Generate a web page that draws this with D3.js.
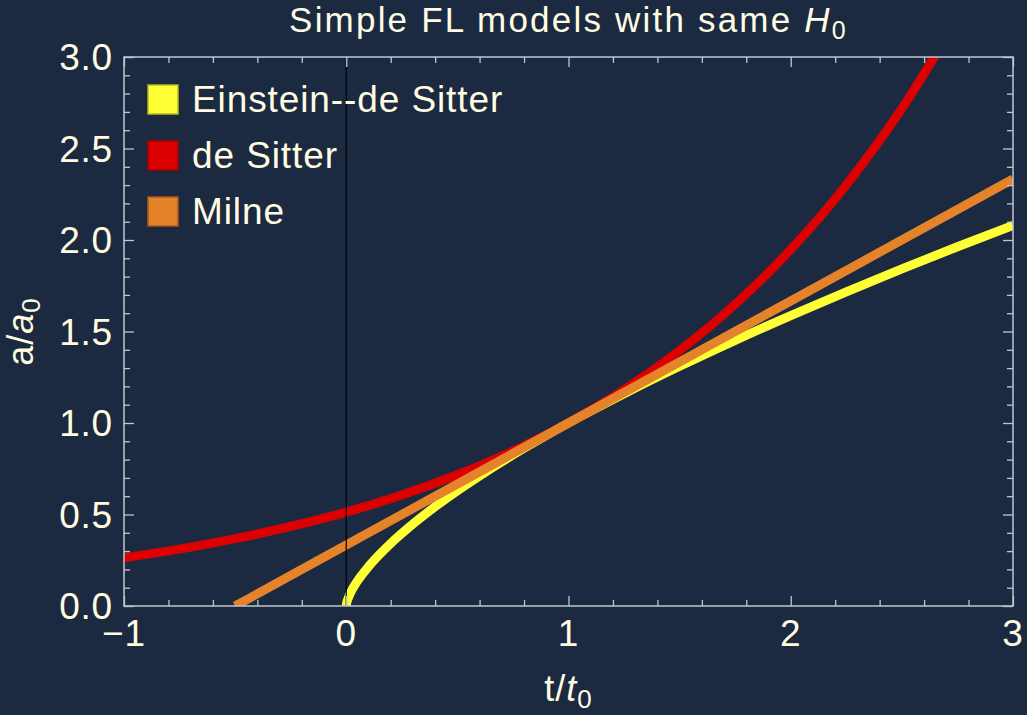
<!DOCTYPE html>
<html>
<head>
<meta charset="utf-8">
<script src="https://cdn.jsdelivr.net/npm/d3@7"></script>
<style>
  body { margin: 0; background: #1b2a40; }
  text { font-family: "Liberation Sans", Arial, sans-serif; fill: #fffce2; }
</style>
</head>
<body>
<div id="chart"></div>
<script>
// values
let edsT = [0, 0.002, 0.01, 0.025, 0.05, 0.1, 0.15, 0.2, 0.3, 0.4, 0.5, 0.6, 0.8, 1.0,
            1.25, 1.5, 1.75, 2.0, 2.25, 2.5, 2.75, 3.0];
let edsA = [0, 0.016, 0.046, 0.086, 0.136, 0.215, 0.282, 0.342, 0.448, 0.543, 0.630, 0.711, 0.862, 1.0,
            1.160, 1.310, 1.452, 1.587, 1.717, 1.842, 1.963, 2.080];

let dsT = [-1, -0.75, -0.5, -0.25, 0, 0.25, 0.5, 0.75, 1.0, 1.25, 1.5, 1.75, 2.0, 2.25, 2.5, 2.75];
let dsA = [0.264, 0.311, 0.368, 0.435, 0.513, 0.607, 0.717, 0.847, 1.0, 1.181, 1.396, 1.649, 1.948, 2.301, 2.718, 3.211];

let milneT = [-0.5, 0, 1.0, 2.0, 3.0];
let milneA = [0, 0.333, 1.0, 1.667, 2.333];

let legendNames = ["Einstein--de Sitter", "de Sitter", "Milne"];
let xTicks = [-1, 0, 1, 2, 3];
let yTicks = [0, 0.5, 1.0, 1.5, 2.0, 2.5, 3.0];

let w = 1027;
let h = 715;
let pLeft = 124, pRight = 1013, pTop = 57, pBottom = 606;

let svg = d3.select("#chart")
            .append("svg")
            .attr("width", w)
            .attr("height", h);

svg.append("rect")
    .attr("width", w)
    .attr("height", h)
    .attr("fill", "#1b2a40");

let x = d3.scaleLinear().domain([-1, 3]).range([pLeft, pRight]);
let y = d3.scaleLinear().domain([0, 3]).range([pBottom, pTop]);

svg.append("clipPath")
    .attr("id", "plotclip")
    .append("rect")
    .attr("x", pLeft)
    .attr("y", pTop)
    .attr("width", pRight - pLeft)
    .attr("height", pBottom - pTop);

// curves, yellow first, orange on top
let series = [
    {t: edsT, a: edsA, color: "#ffff36"},
    {t: dsT, a: dsA, color: "#dd0000"},
    {t: milneT, a: milneA, color: "#e5832a"}
];

let line = d3.line()
    .x(function(d) { return x(d[0]); })
    .y(function(d) { return y(d[1]); })
    .curve(d3.curveMonotoneX);

let plot = svg.append("g").attr("clip-path", "url(#plotclip)");

plot.selectAll("path")
    .data(series)
    .enter()
    .append("path")
    .attr("d", function(s) {
        return line(s.t.map(function(t, i) { return [t, s.a[i]]; }));
    })
    .attr("fill", "none")
    .attr("stroke", function(s) { return s.color; })
    .attr("stroke-width", 9);

// the t = 0 axis line
svg.append("line")
    .attr("x1", x(0))
    .attr("x2", x(0))
    .attr("y1", pTop)
    .attr("y2", pBottom)
    .attr("stroke", "#000")
    .attr("stroke-width", 1.2);

// frame ticks, pointing inward on every side
let frameColor = "#c3c6ca";
let xMinor = d3.range(-1, 3.001, 0.2).filter(function(v) { return Math.abs(v - Math.round(v)) > 1e-6; });
let yMinor = d3.range(0, 3.001, 0.1).filter(function(v) { return Math.abs(v * 2 - Math.round(v * 2)) > 1e-6; });

function tickGroup(axis, transform) {
    let g = svg.append("g").attr("transform", transform).call(axis);
    g.select(".domain").remove();
    g.selectAll("line").attr("stroke", frameColor).attr("stroke-width", 1.3);
    g.selectAll("text").remove();
}

tickGroup(d3.axisBottom(x).tickValues(xTicks).tickSize(-10), "translate(0," + pBottom + ")");
tickGroup(d3.axisBottom(x).tickValues(xMinor).tickSize(-6), "translate(0," + pBottom + ")");
tickGroup(d3.axisTop(x).tickValues(xTicks).tickSize(-10), "translate(0," + pTop + ")");
tickGroup(d3.axisTop(x).tickValues(xMinor).tickSize(-6), "translate(0," + pTop + ")");
tickGroup(d3.axisLeft(y).tickValues(yTicks).tickSize(-10), "translate(" + pLeft + ",0)");
tickGroup(d3.axisLeft(y).tickValues(yMinor).tickSize(-6), "translate(" + pLeft + ",0)");
tickGroup(d3.axisRight(y).tickValues(yTicks).tickSize(-10), "translate(" + pRight + ",0)");
tickGroup(d3.axisRight(y).tickValues(yMinor).tickSize(-6), "translate(" + pRight + ",0)");

svg.append("rect")
    .attr("x", pLeft)
    .attr("y", pTop)
    .attr("width", pRight - pLeft)
    .attr("height", pBottom - pTop)
    .attr("fill", "none")
    .attr("stroke", frameColor)
    .attr("stroke-width", 1.5);

// tick labels
svg.selectAll(".xlab")
    .data(xTicks)
    .enter()
    .append("text")
    .attr("class", "xlab")
    .attr("x", function(d) { return x(d); })
    .attr("y", 646)
    .attr("text-anchor", "middle")
    .attr("font-size", "37px")
    .attr("letter-spacing", "0.8px")
    .text(function(d) { return d < 0 ? "\u2212" + (-d) : d; });

svg.selectAll(".ylab")
    .data(yTicks)
    .enter()
    .append("text")
    .attr("class", "ylab")
    .attr("x", 113)
    .attr("y", function(d) { return y(d) + 13; })
    .attr("text-anchor", "end")
    .attr("font-size", "37px")
    .attr("letter-spacing", "0.8px")
    .text(function(d) { return d3.format(".1f")(d); });

// title
let title = svg.append("text")
    .attr("x", (pLeft + pRight) / 2)
    .attr("y", 32)
    .attr("text-anchor", "middle")
    .attr("font-size", "35px")
    .attr("letter-spacing", "2.2px");
title.append("tspan").text("Simple FL models with same ");
title.append("tspan").attr("font-style", "italic").text("H");
title.append("tspan").attr("font-size", "25px").attr("dy", 7).text("0");

// axis labels
let xl = svg.append("text")
    .attr("x", (pLeft + pRight) / 2)
    .attr("y", 701)
    .attr("text-anchor", "middle")
    .attr("font-size", "36px")
    .attr("letter-spacing", "1px");
xl.append("tspan").text("t/");
xl.append("tspan").attr("font-style", "italic").text("t");
xl.append("tspan").attr("font-size", "26px").attr("dy", 7).text("0");

let yl = svg.append("text")
    .attr("transform", "translate(33," + ((pTop + pBottom) / 2) + ") rotate(-90)")
    .attr("text-anchor", "middle")
    .attr("font-size", "36px")
    .attr("letter-spacing", "1px");
yl.append("tspan").text("a/");
yl.append("tspan").attr("font-style", "italic").text("a");
yl.append("tspan").attr("font-size", "26px").attr("dy", 7).text("0");

// legend
let legendColors = ["#ffff36", "#dd0000", "#e5832a"];
let legendBorders = ["#b8b820", "#a00000", "#a85a18"];

let items = svg.selectAll(".leg")
    .data(legendNames)
    .enter()
    .append("g")
    .attr("class", "leg")
    .attr("transform", function(d, i) { return "translate(148," + (85 + i * 56) + ")"; });

items.append("rect")
    .attr("width", 30)
    .attr("height", 29)
    .attr("fill", function(d, i) { return legendColors[i]; })
    .attr("stroke", function(d, i) { return legendBorders[i]; })
    .attr("stroke-width", 1.5);

items.append("text")
    .attr("x", 44)
    .attr("y", 27)
    .attr("font-size", "37px")
    .attr("letter-spacing", "0.9px")
    .text(function(d) { return d; });
</script>
</body>
</html>
